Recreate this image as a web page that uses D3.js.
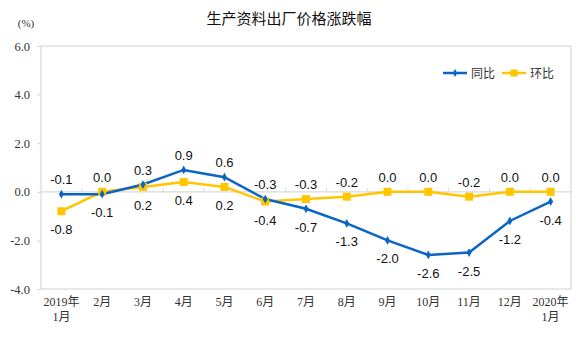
<!DOCTYPE html>
<html><head><meta charset="utf-8">
<script src="https://cdn.jsdelivr.net/npm/d3@7"></script>
<style>body{margin:0;background:#fff}svg{display:block}</style>
</head><body>
<svg id="c" width="576" height="343"></svg>
<script>
const categories = ["2019年|1月","2月","3月","4月","5月","6月","7月","8月","9月","10月","11月","12月","2020年|1月"];
const yoy = [-0.1,-0.1,0.3,0.9,0.6,-0.3,-0.7,-1.3,-2.0,-2.6,-2.5,-1.2,-0.4];
const mom = [-0.8,0.0,0.2,0.4,0.2,-0.4,-0.3,-0.2,0.0,0.0,-0.2,0.0,0.0];
const yTicks = [-4,-2,0,2,4,6];
const seriesNames = ["同比","环比"];
const title = "生产资料出厂价格涨跌幅";

const svg = d3.select("#c");
const L = 41, R = 571, T = 46, B = 289;
const x = d3.scaleBand().domain(d3.range(categories.length)).range([L, R]);
const y = d3.scaleLinear().domain([-4, 6]).range([B, T]);
const cx = i => x(i) + x.bandwidth() / 2;
const blue = "#0A64C8", yellow = "#FFC600";
const serif = "'Liberation Serif','Noto Sans CJK SC',serif";
const sans = "'Liberation Sans',Arial,sans-serif";

svg.append("text").attr("x", 289).attr("y", 24).attr("text-anchor", "middle")
  .attr("font-family", "'Noto Sans CJK SC',sans-serif").attr("font-size", 15).attr("fill", "#111").text(title);
svg.append("text").attr("x", 26).attr("y", 27).attr("text-anchor", "middle")
  .attr("font-family", serif).attr("font-size", 11).attr("fill", "#333").text("(%)");

// frame
svg.append("rect").attr("x", L).attr("y", T).attr("width", R - L).attr("height", B - T)
  .attr("fill", "none").attr("stroke", "#d9d9d9").attr("stroke-width", 1.2);

// y axis
const yAxis = d3.axisLeft(y).tickValues(yTicks).tickFormat(d3.format(".1f")).tickSize(4).tickPadding(7);
const ga = svg.append("g").attr("transform", `translate(${L},0)`).call(yAxis);
ga.select(".domain").remove();
ga.selectAll("line").attr("stroke", "#d9d9d9");
ga.selectAll("text").attr("font-family", serif).attr("font-size", 12.5).attr("fill", "#333")
  .text(d => d3.format(".1f")(d).replace("−", "-"));

// zero line with ticks
svg.append("line").attr("x1", L).attr("x2", R).attr("y1", y(0)).attr("y2", y(0)).attr("stroke", "#d9d9d9").attr("stroke-width", 1.2);
svg.append("g").selectAll("line").data(d3.range(1, categories.length)).join("line")
  .attr("x1", i => x(i)).attr("x2", i => x(i)).attr("y1", y(0) - 4).attr("y2", y(0))
  .attr("stroke", "#d9d9d9");

// x labels
const xl = svg.append("g");
categories.forEach((c, i) => {
  const parts = c.split("|");
  const t = xl.append("text").attr("x", cx(i)).attr("y", 306).attr("text-anchor", "middle")
    .attr("font-family", serif).attr("font-size", 12).attr("fill", "#333");
  parts.forEach((p, k) => t.append("tspan").attr("x", cx(i)).attr("dy", k ? 15 : 0).text(p));
});

const line = d3.line().x((d, i) => cx(i)).y(d => y(d));
svg.append("path").datum(mom).attr("d", line).attr("fill", "none").attr("stroke", yellow).attr("stroke-width", 2.5);
svg.append("path").datum(yoy).attr("d", line).attr("fill", "none").attr("stroke", blue).attr("stroke-width", 2.5);

svg.append("g").selectAll("rect").data(mom).join("rect")
  .attr("x", (d, i) => cx(i) - 4).attr("y", d => y(d) - 4).attr("width", 8).attr("height", 8).attr("fill", yellow);
svg.append("g").selectAll("path").data(yoy).join("path")
  .attr("d", d3.symbol(d3.symbolDiamond, 22)).attr("transform", (d, i) => `translate(${cx(i)},${y(d)})`).attr("fill", blue);

// data labels: series with larger value gets label above
const fmt = v => v.toFixed(1);
const lab = svg.append("g").attr("font-family", sans).attr("font-size", 13).attr("fill", "#111").attr("text-anchor", "middle");
yoy.forEach((v, i) => {
  const above = v >= mom[i];
  lab.append("text").attr("x", cx(i)).attr("y", y(v) + (above ? -10 : 23)).text(fmt(v));
  const m = mom[i];
  lab.append("text").attr("x", cx(i)).attr("y", y(m) + (above ? 23 : -10)).text(fmt(m));
});

// legend
const lg = svg.append("g");
const leg = [[443, blue, seriesNames[0]], [502, yellow, seriesNames[1]]];
leg.forEach(([lx, col, name], k) => {
  lg.append("line").attr("x1", lx).attr("x2", lx + 24).attr("y1", 73).attr("y2", 73).attr("stroke", col).attr("stroke-width", 2.5);
  if (k === 0) lg.append("path").attr("d", d3.symbol(d3.symbolDiamond, 18)).attr("transform", `translate(${lx + 12},73)`).attr("fill", col);
  else lg.append("rect").attr("x", lx + 8.5).attr("y", 69.5).attr("width", 7).attr("height", 7).attr("fill", col);
  lg.append("text").attr("x", lx + 28).attr("y", 77.5).attr("font-family", "'Noto Sans CJK SC',sans-serif").attr("font-size", 12).attr("fill", "#333").text(name);
});
</script>
</body></html>
